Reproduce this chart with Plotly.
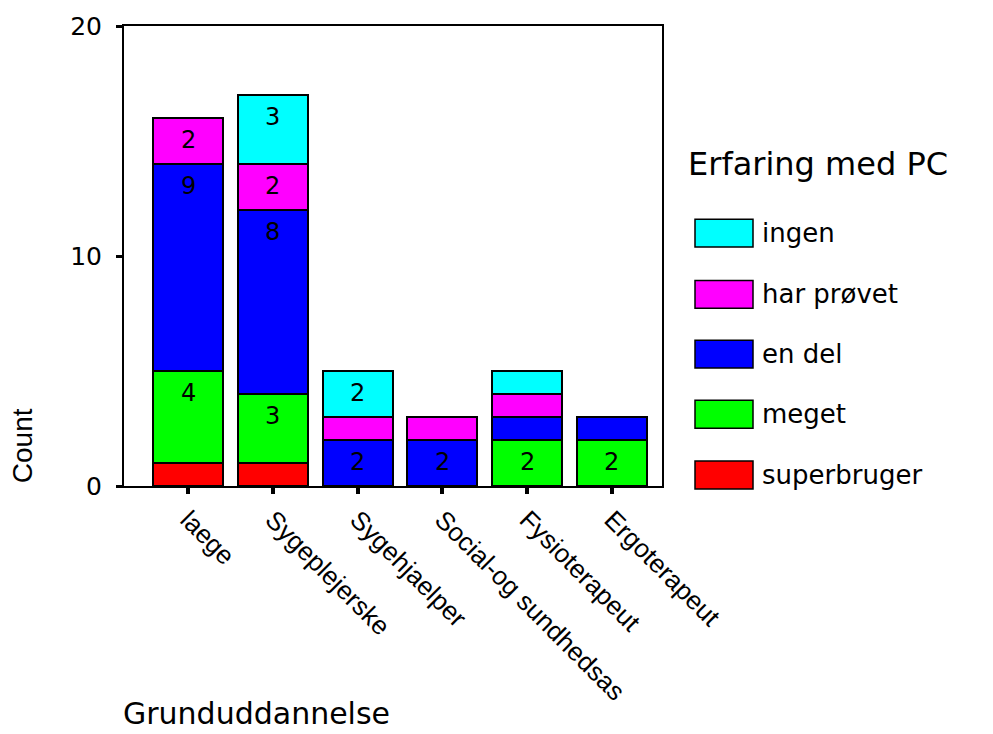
import plotly.graph_objects as go

categories = ["laege", "Sygeplejerske", "Sygehjaelper", "Social-og sundhedsas", "Fysioterapeut", "Ergoterapeut"]
series_names = ["superbruger", "meget", "en del", "har prøvet", "ingen"]
superbruger = [1, 1, 0, 0, 0, 0]
meget = [4, 3, 0, 0, 2, 2]
en_del = [9, 8, 2, 2, 1, 1]
har_proevet = [2, 2, 1, 1, 1, 0]
ingen = [0, 3, 2, 0, 1, 0]
series_values = [superbruger, meget, en_del, har_proevet, ingen]
series_colors = ["#FF0000", "#00FF00", "#0000FF", "#FF00FF", "#00FFFF"]
y_ticks = [0, 10, 20]

W, H = 993, 734
L, R, T, B = 124, 662, 24, 486  # plot area in pixels


def px(xp):
    return (xp - L) / (R - L)


def py(yp):
    return (B - yp) / (B - T)


fig = go.Figure()
for name, vals, col in zip(series_names, series_values, series_colors):
    fig.add_trace(go.Bar(
        x=categories, y=vals, name=name, width=0.825,
        marker=dict(color=col, line=dict(color="black", width=2)),
        showlegend=False, hoverinfo="x+y+name",
    ))

# value labels (only for counts >= 2), placed near top of each segment
annotations = []
cum = [0] * len(categories)
for vals in series_values:
    for i, v in enumerate(vals):
        top = cum[i] + v
        if v >= 2:
            annotations.append(dict(
                x=categories[i], y=top, xref="x", yref="y", text=str(v),
                showarrow=False, yanchor="middle", yshift=-22,
                font=dict(family="DejaVu Sans", size=24, color="black")))
        cum[i] = top

# custom legend (large swatches)
legend_centers = [475, 414, 353.5, 293.5, 232]  # superbruger ... ingen
shapes = []
for name, col, cy in zip(series_names, series_colors, legend_centers):
    shapes.append(dict(type="rect", xref="paper", yref="paper",
                       x0=px(695), x1=px(753), y0=py(cy + 14), y1=py(cy - 14),
                       fillcolor=col, line=dict(color="black", width=1.5)))
    annotations.append(dict(x=px(760), y=py(cy), xref="paper", yref="paper",
                            text=name, showarrow=False, xanchor="left", yanchor="middle",
                            font=dict(family="DejaVu Sans", size=26, color="black")))

annotations.append(dict(x=px(686), y=py(163), xref="paper", yref="paper",
                        text="Erfaring med PC", showarrow=False, xanchor="left", yanchor="middle",
                        font=dict(family="DejaVu Sans", size=32, color="black")))
annotations.append(dict(x=px(121), y=py(714), xref="paper", yref="paper",
                        text="Grunduddannelse", showarrow=False, xanchor="left", yanchor="middle",
                        font=dict(family="DejaVu Sans", size=30, color="black")))
annotations.append(dict(x=px(22), y=py(446), xref="paper", yref="paper",
                        text="Count", showarrow=False, textangle=-90,
                        xanchor="center", yanchor="middle",
                        font=dict(family="Liberation Sans", size=28, color="black")))

fig.update_layout(
    width=W, height=H, autosize=False,
    margin=dict(l=L, r=W - R, t=T, b=H - B, pad=0),
    barmode="stack",
    plot_bgcolor="white", paper_bgcolor="white",
    shapes=shapes, annotations=annotations,
    showlegend=False,
)
fig.update_xaxes(
    type="category", range=[-0.755, 5.59],
    showline=True, linecolor="black", linewidth=2, mirror=True,
    ticks="outside", ticklen=6, tickwidth=4, tickcolor="black",
    tickangle=45, showgrid=False,
    tickfont=dict(family="Liberation Sans", size=26, color="black"),
)
fig.update_yaxes(
    range=[0, 20], tickvals=y_ticks,
    showline=True, linecolor="black", linewidth=2, mirror=True,
    ticks="outside", ticklen=6, tickwidth=3, tickcolor="black",
    ticklabelstandoff=9, showgrid=False, zeroline=False,
    tickfont=dict(family="DejaVu Sans", size=25, color="black"),
)

fig.write_html("out.html", config={"displayModeBar": False},
               post_script="document.body.style.margin='0';")
